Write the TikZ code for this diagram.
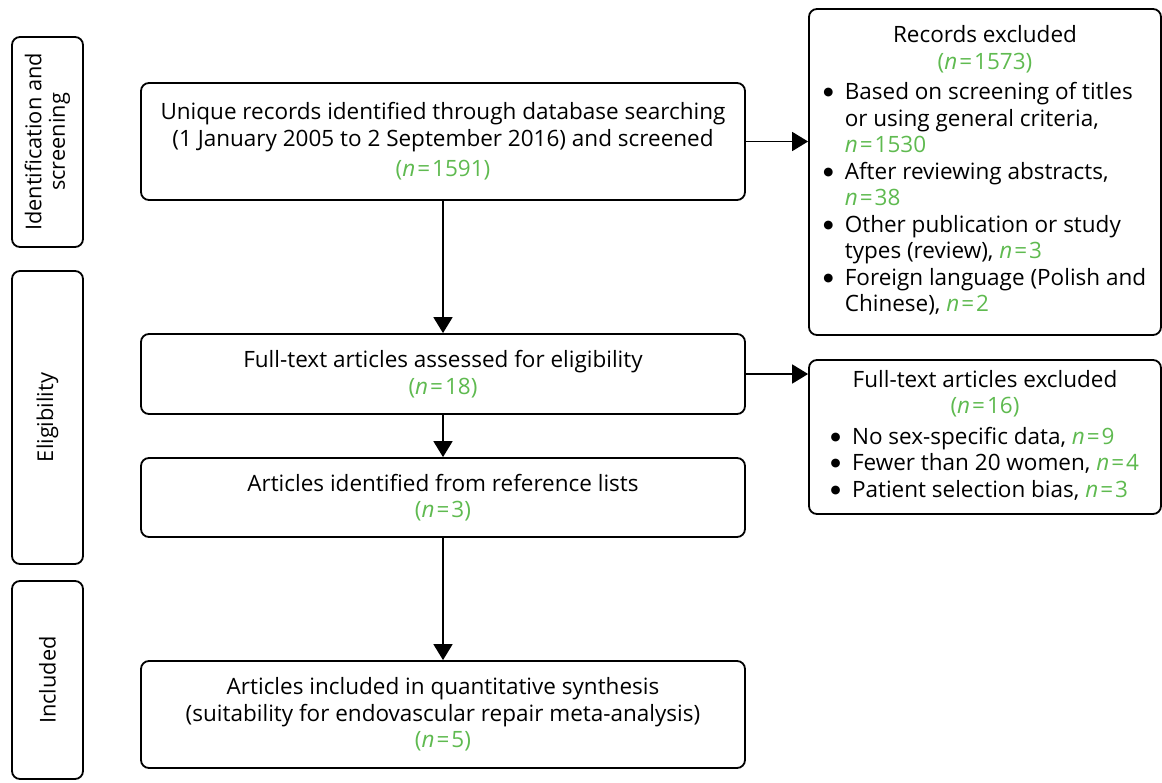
\documentclass[tikz,border=0pt]{standalone}
\usepackage{fontspec}
\setmainfont{Open Sans}
\newfontfamily\symfont{DejaVu Sans}
\usetikzlibrary{arrows.meta}
\definecolor{ngreen}{RGB}{95,186,80}
\newcommand{\nval}[1]{\textcolor{ngreen}{\textit{n}\kern2pt=\kern2pt#1}}
\newcommand{\npar}[1]{\textcolor{ngreen}{(\textit{n}\kern2pt=\kern2pt#1)}}
\newcommand{\bul}{\makebox[21pt][l]{\kern-0.5pt\raisebox{4pt}{\symfont\fontsize{11.5}{11.5}\selectfont ●}}}
\begin{document}
\begin{tikzpicture}[x=1pt,y=-1pt,
  box/.style={draw, line width=1.8pt, rounded corners=8pt, align=center, inner sep=0pt,
    font=\fontsize{22.5}{26.5}\selectfont},
  sidebox/.style={box, rotate=90, minimum height=71pt, font=\fontsize{21.8}{23.5}\selectfont},
  arr/.style={line width=1.8pt, -{Triangle[width=19pt,length=16pt]}}]
\useasboundingbox (0,0) rectangle (1162,782);

\node[sidebox, minimum width=210pt] (s1) at (47.5,142) {Identification and\\screening};
\node[sidebox, minimum width=293pt] (s2) at (47.5,417.5) {Eligibility};
\node[sidebox, minimum width=198pt] (s3) at (47.5,680) {Included};

\node[box, minimum width=604pt, minimum height=117pt] (b1) at (443,141.5)
  {Unique records identified through database searching\\(1 January 2005 to 2 September 2016) and screened\\[4pt]\npar{1591}};
\node[box, minimum width=604pt, minimum height=80pt] (b2) at (443,374)
  {Full-text articles assessed for eligibility\\\npar{18}};
\node[box, minimum width=604pt, minimum height=79pt] (b3) at (443,497.5)
  {Articles identified from reference lists\\\npar{3}};
\node[box, minimum width=604pt, minimum height=107pt] (b4) at (443,714.5)
  {Articles included in quantitative synthesis\\(suitability for endovascular repair meta-analysis)\\\npar{5}};

\node[box, minimum width=352pt, minimum height=326pt] (e1) at (985,172)
  {\begin{tabular}{@{}l@{}l@{}}
   \multicolumn{2}{c}{Records excluded}\\
   \multicolumn{2}{c}{\npar{1573}}\\[4pt]
   \bul & Based on screening of titles\\
     & or using general criteria,\\
     & \nval{1530}\\
   \bul & After reviewing abstracts,\\
     & \nval{38}\\
   \bul & Other publication or study\\
     & types (review), \nval{3}\\
   \bul & Foreign language (Polish and\\
     & Chinese), \nval{2}
   \end{tabular}};
\node[box, minimum width=352pt, minimum height=154pt] (e2) at (985,437)
  {\begin{tabular}{@{}l@{}l@{}}
   \multicolumn{2}{c}{Full-text articles excluded}\\
   \multicolumn{2}{c}{\npar{16}}\\[4pt]
   \bul & No sex-specific data, \nval{9}\\
   \bul & Fewer than 20 women, \nval{4}\\
   \bul & Patient selection bias, \nval{3}
   \end{tabular}};

\draw[arr] (b1.south) -- (b2.north);
\draw[arr] (b2.south) -- (b3.north);
\draw[arr] (b3.south) -- (b4.north);
\draw[arr] (b1.east) -- (b1.east -| e1.west);
\draw[arr] (b2.east) -- (b2.east -| e2.west);
\end{tikzpicture}
\end{document}
